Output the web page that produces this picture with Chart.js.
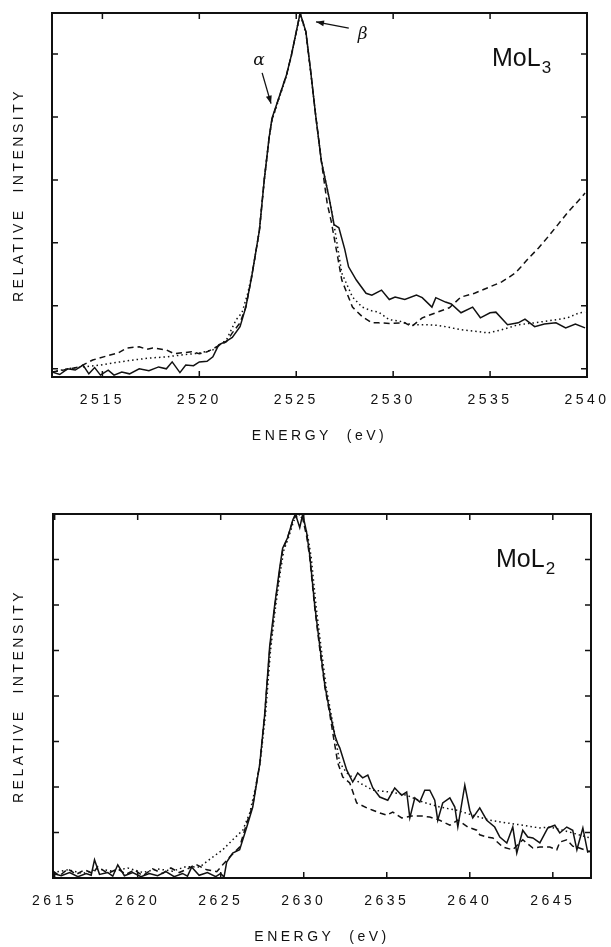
<!DOCTYPE html>
<html>
<head>
<meta charset="utf-8">
<script src="https://cdn.jsdelivr.net/npm/chart.js@4.4.0/dist/chart.umd.min.js"></script>
<style>
  body { margin: 0; background: #fff; }
  #wrap { position: relative; width: 611px; height: 947px; }
  canvas { position: absolute; left: 0; }
  #chartL3 { top: 0; }
  #chartL2 { top: 470px; }
</style>
</head>
<body>
<div id="wrap">
  <canvas id="chartL3" width="611" height="460"></canvas>
  <canvas id="chartL2" width="611" height="477"></canvas>
</div>
<script>
// Mo L3 edge: [energy eV, relative intensity]
const l3Ticks = [2515, 2520, 2525, 2530, 2535, 2540];
const l3YTicks = [0, 1, 2, 3, 4, 5];

const l3Solid = [
  [2512.4, -0.05], [2512.8, -0.09], [2513.2, 0.0], [2513.6, -0.02], [2514.0, 0.06], [2514.3, -0.08],
  [2514.6, 0.02], [2514.9, -0.1], [2515.3, -0.02], [2515.6, -0.1], [2516.0, -0.05], [2516.4, -0.08],
  [2516.9, 0.0], [2517.4, -0.03], [2517.9, 0.03], [2518.3, 0.0], [2518.6, 0.11], [2519.0, -0.06],
  [2519.3, 0.06], [2519.7, 0.05], [2520.0, 0.11], [2520.4, 0.12], [2520.7, 0.19], [2521.0, 0.38],
  [2521.4, 0.44], [2521.7, 0.5], [2522.1, 0.67], [2522.4, 0.98], [2522.7, 1.46], [2523.1, 2.2],
  [2523.35, 3.0], [2523.6, 3.67], [2523.75, 3.98], [2524.1, 4.3], [2524.5, 4.67], [2524.75, 4.98],
  [2525.0, 5.35], [2525.2, 5.65], [2525.5, 5.35], [2525.75, 4.71], [2526.0, 4.03], [2526.3, 3.29],
  [2526.7, 2.71], [2526.95, 2.29], [2527.05, 2.27], [2527.2, 2.24], [2527.5, 1.9], [2527.7, 1.62],
  [2528.1, 1.41], [2528.6, 1.2], [2528.9, 1.17], [2529.4, 1.25], [2529.8, 1.1], [2530.1, 1.14],
  [2530.6, 1.1], [2531.2, 1.17], [2531.5, 1.13], [2532.0, 0.98], [2532.2, 1.13], [2532.7, 1.06],
  [2533.0, 1.03], [2533.5, 0.89], [2534.1, 0.98], [2534.5, 0.81], [2535.0, 0.89], [2535.3, 0.9],
  [2535.9, 0.7], [2536.45, 0.73], [2536.8, 0.79], [2537.3, 0.67], [2537.8, 0.71], [2538.4, 0.73],
  [2538.9, 0.65], [2539.4, 0.71], [2539.9, 0.65]
];

const l3Dashed = [
  [2512.4, -0.05], [2513.0, -0.02], [2513.8, 0.03], [2514.5, 0.14], [2515.4, 0.22], [2515.8, 0.25],
  [2516.25, 0.33], [2516.9, 0.35], [2517.3, 0.31], [2517.6, 0.33], [2518.3, 0.3], [2518.7, 0.24],
  [2519.0, 0.25], [2519.6, 0.27], [2520.0, 0.24], [2520.4, 0.27], [2520.9, 0.35], [2521.4, 0.43],
  [2521.7, 0.57], [2522.1, 0.73], [2522.4, 0.98], [2522.7, 1.46], [2523.1, 2.2], [2523.35, 3.0],
  [2523.6, 3.67], [2523.75, 3.96], [2524.1, 4.3], [2524.5, 4.67], [2524.75, 4.98], [2525.0, 5.35],
  [2525.2, 5.65], [2525.5, 5.35], [2525.75, 4.71], [2526.0, 4.03], [2526.3, 3.29], [2526.6, 2.62],
  [2526.8, 2.35], [2527.35, 1.41], [2527.9, 0.98], [2528.4, 0.83], [2528.9, 0.73], [2529.25, 0.73],
  [2529.9, 0.72], [2530.6, 0.73], [2530.95, 0.67], [2531.5, 0.81], [2532.2, 0.89], [2532.9, 0.97],
  [2533.5, 1.14], [2534.2, 1.2], [2534.9, 1.29], [2535.6, 1.38], [2536.3, 1.52], [2536.6, 1.62],
  [2537.0, 1.76], [2537.5, 1.92], [2538.0, 2.1], [2538.5, 2.29], [2539.0, 2.48], [2539.5, 2.65],
  [2539.9, 2.79]
];

const l3Dotted = [
  [2512.4, -0.05], [2513.2, 0.0], [2514.0, 0.03], [2514.9, 0.06], [2515.7, 0.1], [2516.6, 0.14],
  [2517.4, 0.17], [2518.3, 0.19], [2519.1, 0.22], [2520.0, 0.25], [2520.7, 0.3], [2521.4, 0.46],
  [2521.9, 0.78], [2522.2, 0.89], [2522.5, 1.2], [2522.75, 1.55], [2523.1, 2.2], [2523.35, 3.0],
  [2523.6, 3.65], [2523.75, 3.95], [2524.1, 4.28], [2524.5, 4.65], [2524.75, 4.97], [2525.0, 5.34],
  [2525.2, 5.63], [2525.5, 5.33], [2525.75, 4.7], [2526.0, 4.03], [2526.3, 3.29], [2526.7, 2.71],
  [2526.95, 2.29], [2527.35, 1.52], [2527.9, 1.14], [2528.4, 0.98], [2528.9, 0.92], [2529.25, 0.9],
  [2529.8, 0.78], [2530.3, 0.76], [2530.95, 0.7], [2531.7, 0.7], [2532.3, 0.69], [2532.7, 0.67],
  [2533.5, 0.62], [2534.4, 0.59], [2534.9, 0.57], [2535.6, 0.62], [2536.45, 0.7], [2537.3, 0.73],
  [2538.4, 0.78], [2539.0, 0.81], [2539.6, 0.89], [2539.9, 0.9]
];

// Mo L2 edge
const l2Ticks = [2615, 2620, 2625, 2630, 2635, 2640, 2645];
const l2YTicks = [0, 1, 2, 3, 4, 5, 6, 7, 8];

const l2Solid = [
  [2614.9, 0.1], [2615.4, 0.05], [2615.9, 0.12], [2616.4, 0.03], [2616.9, 0.1], [2617.2, 0.06],
  [2617.4, 0.4], [2617.7, 0.08], [2618.2, 0.12], [2618.5, 0.04], [2618.8, 0.29], [2619.2, 0.05],
  [2619.7, 0.12], [2620.2, 0.03], [2620.7, 0.1], [2621.2, 0.05], [2621.7, 0.14], [2622.2, 0.03],
  [2622.7, 0.1], [2623.0, 0.04], [2623.25, 0.24], [2623.7, 0.06], [2624.2, 0.12], [2624.7, 0.03],
  [2625.0, 0.1], [2625.2, 0.02], [2625.36, 0.35], [2625.72, 0.55], [2626.14, 0.62], [2626.57, 1.12],
  [2626.93, 1.56], [2627.35, 2.5], [2627.65, 3.6], [2627.8, 4.35], [2627.95, 5.1], [2628.25, 6.0],
  [2628.55, 6.81], [2628.73, 7.25], [2629.04, 7.49], [2629.34, 7.87], [2629.5, 8.0], [2629.76, 7.7],
  [2629.94, 8.0], [2630.18, 7.58], [2630.36, 7.1], [2630.66, 6.0], [2630.96, 5.12], [2631.27, 4.24],
  [2631.57, 3.65], [2631.87, 3.14], [2632.05, 2.95], [2632.17, 2.86], [2632.59, 2.37], [2632.95, 2.11],
  [2633.25, 2.31], [2633.55, 2.2], [2633.86, 2.26], [2634.16, 1.98], [2634.58, 1.78], [2635.06, 1.71],
  [2635.48, 1.98], [2635.9, 1.82], [2636.2, 1.89], [2636.39, 1.32], [2636.69, 1.76], [2636.99, 1.67],
  [2637.29, 1.93], [2637.59, 1.93], [2637.89, 1.71], [2638.07, 1.27], [2638.37, 1.65], [2638.8, 1.76],
  [2639.1, 1.56], [2639.28, 1.12], [2639.7, 2.04], [2640.0, 1.49], [2640.18, 1.32], [2640.6, 1.54],
  [2641.02, 1.27], [2641.5, 1.12], [2641.81, 0.9], [2642.23, 0.77], [2642.59, 1.12], [2642.83, 0.55],
  [2643.19, 1.05], [2643.49, 0.9], [2643.8, 0.88], [2644.22, 0.77], [2644.7, 1.1], [2645.12, 1.16],
  [2645.42, 0.99], [2645.84, 1.12], [2646.2, 1.05], [2646.45, 0.62], [2646.81, 1.1], [2647.1, 0.57],
  [2647.3, 0.6]
];

const l2Dashed = [
  [2614.9, 0.15], [2615.3, 0.05], [2615.8, 0.2], [2616.3, 0.08], [2616.8, 0.18], [2617.3, 0.1],
  [2617.6, 0.25], [2618.2, 0.1], [2618.8, 0.2], [2619.3, 0.08], [2619.8, 0.18], [2620.3, 0.05],
  [2620.9, 0.2], [2621.5, 0.1], [2622.0, 0.22], [2622.5, 0.12], [2623.0, 0.2], [2623.5, 0.3],
  [2624.16, 0.18], [2624.76, 0.14], [2625.12, 0.29], [2625.54, 0.46], [2626.14, 0.68], [2626.57, 1.21],
  [2626.93, 1.6], [2627.35, 2.5], [2627.65, 3.6], [2627.95, 5.0], [2628.25, 5.95], [2628.55, 6.75],
  [2628.73, 7.2], [2629.04, 7.5], [2629.34, 7.85], [2629.6, 8.0], [2629.94, 7.9], [2630.18, 7.5],
  [2630.36, 7.05], [2630.66, 5.95], [2630.96, 5.05], [2631.27, 4.2], [2631.57, 3.6], [2631.75, 3.19],
  [2632.05, 2.53], [2632.35, 2.22], [2632.77, 2.09], [2633.19, 1.65], [2633.8, 1.54], [2634.16, 1.49],
  [2634.58, 1.43], [2635.0, 1.38], [2635.36, 1.45], [2635.9, 1.32], [2636.5, 1.36], [2637.17, 1.36],
  [2637.59, 1.34], [2638.19, 1.27], [2638.8, 1.16], [2639.28, 1.27], [2639.88, 1.12], [2640.42, 1.05],
  [2640.6, 0.95], [2641.02, 0.9], [2641.39, 0.88], [2641.99, 0.68], [2642.59, 0.62], [2643.19, 0.84],
  [2643.43, 0.77], [2643.8, 0.66], [2644.22, 0.68], [2644.82, 0.68], [2645.24, 0.62], [2645.42, 0.79],
  [2645.84, 0.84], [2646.2, 0.7], [2646.45, 0.68], [2647.05, 0.6], [2647.3, 0.57]
];

const l2Dotted = [
  [2614.9, 0.12], [2615.8, 0.18], [2616.7, 0.1], [2617.6, 0.2], [2618.5, 0.15], [2619.4, 0.22],
  [2620.3, 0.12], [2621.2, 0.2], [2622.1, 0.15], [2622.9, 0.25], [2623.73, 0.24], [2624.52, 0.46],
  [2625.12, 0.62], [2625.72, 0.84], [2626.33, 1.05], [2626.75, 1.43], [2627.1, 2.0], [2627.4, 2.6],
  [2627.7, 3.6], [2628.0, 5.0], [2628.3, 5.95], [2628.6, 6.75], [2628.8, 7.2], [2629.1, 7.5],
  [2629.4, 7.85], [2629.7, 8.0], [2630.0, 7.85], [2630.25, 7.5], [2630.45, 7.05], [2630.75, 5.95],
  [2631.05, 5.05], [2631.35, 4.2], [2631.65, 3.6], [2631.9, 3.1], [2632.17, 2.53], [2632.59, 2.31],
  [2633.37, 2.09], [2634.16, 1.93], [2635.18, 1.89], [2636.2, 1.82], [2637.17, 1.67], [2638.19, 1.56],
  [2639.22, 1.49], [2640.18, 1.38], [2641.2, 1.27], [2642.23, 1.21], [2643.19, 1.16], [2644.22, 1.1],
  [2644.82, 1.12], [2645.6, 1.05], [2646.2, 0.99], [2647.05, 0.9], [2647.3, 0.88]
];

const FONT = "'Liberation Sans', Arial, sans-serif";
const INK = '#111';

function series(points, dash) {
  return {
    data: points.map(p => ({ x: p[0], y: p[1] })),
    borderColor: INK,
    borderWidth: 1.5,
    borderDash: dash,
    pointRadius: 0,
    fill: false,
    tension: 0
  };
}

function arrow(ctx, x1, y1, x2, y2) {
  const a = Math.atan2(y2 - y1, x2 - x1);
  const c = Math.cos(a), s = Math.sin(a);
  ctx.beginPath();
  ctx.moveTo(x1, y1);
  ctx.lineTo(x2, y2);
  ctx.stroke();
  ctx.beginPath();
  ctx.moveTo(x2, y2);
  ctx.lineTo(x2 - 8 * c + 3 * s, y2 - 8 * s - 3 * c);
  ctx.lineTo(x2 - 8 * c - 3 * s, y2 - 8 * s + 3 * c);
  ctx.closePath();
  ctx.fill();
}

function panelLabel(ctx, area, main, sub) {
  ctx.font = `25px ${FONT}`;
  ctx.textBaseline = 'alphabetic';
  ctx.textAlign = 'left';
  const x0 = area.right - 95, y0 = area.top + 53;
  ctx.fillText(main, x0, y0);
  const w = ctx.measureText(main).width;
  ctx.font = `17px ${FONT}`;
  ctx.fillText(sub, x0 + w + 1, y0 + 7);
}

// box round the plot with short inward ticks on every side
const framePlugin = {
  id: 'frame',
  beforeDraw(chart) {
    chart.ctx.letterSpacing = '3.5px';
  },
  afterDraw(chart) {
    const { ctx, chartArea: a, scales: { x, y } } = chart;
    ctx.save();
    ctx.strokeStyle = INK;
    ctx.lineWidth = 2;
    ctx.strokeRect(a.left, a.top, a.right - a.left, a.bottom - a.top);
    ctx.lineWidth = 1.5;
    ctx.beginPath();
    x.ticks.forEach(t => {
      const px = x.getPixelForValue(t.value);
      ctx.moveTo(px, a.bottom); ctx.lineTo(px, a.bottom - 6);
      ctx.moveTo(px, a.top); ctx.lineTo(px, a.top + 6);
    });
    y.ticks.forEach(t => {
      const py = y.getPixelForValue(t.value);
      ctx.moveTo(a.left, py); ctx.lineTo(a.left + 6, py);
      ctx.moveTo(a.right, py); ctx.lineTo(a.right - 6, py);
    });
    ctx.stroke();
    ctx.restore();
  }
};

function scaleOptions(xr, xTicks, yr, yTicks, leftW, xH, titlePad) {
  const font = { family: FONT, size: 14 };
  return {
    x: {
      type: 'linear', min: xr[0], max: xr[1],
      afterBuildTicks: s => { s.ticks = xTicks.map(v => ({ value: v })); },
      // fixed axis height; end labels may hang past the plot edge
      afterFit: s => { s.height = xH; s.paddingLeft = 0; s.paddingRight = 0; },
      grid: { display: false, drawTicks: false },
      border: { display: false },
      ticks: { color: INK, font, padding: 15, maxRotation: 0, autoSkip: false, callback: v => String(v) },
      title: { display: true, text: 'ENERGY  (eV)', color: INK, font, padding: { top: 0, bottom: titlePad } }
    },
    y: {
      min: yr[0], max: yr[1],
      afterBuildTicks: s => { s.ticks = yTicks.map(v => ({ value: v })); },
      afterFit: s => { s.width = leftW; },
      grid: { display: false, drawTicks: false },
      border: { display: false },
      ticks: { display: false },
      title: { display: true, text: 'RELATIVE  INTENSITY', color: INK, font, padding: { top: 10.6, bottom: 0 } }
    }
  };
}

const common = {
  responsive: false,
  animation: false,
  plugins: { legend: { display: false }, tooltip: { enabled: false } }
};

new Chart(document.getElementById('chartL3'), {
  type: 'line',
  data: { datasets: [series(l3Solid, []), series(l3Dashed, [6, 4]), series(l3Dotted, [1.5, 3])] },
  options: {
    ...common,
    layout: { padding: { top: 13, right: 24, left: 0, bottom: 0 } },
    scales: scaleOptions([2512.4, 2540], l3Ticks, [-0.13, 5.65], l3YTicks, 52, 83, 15.6)
  },
  plugins: [framePlugin, {
    id: 'notesL3',
    afterDraw(chart) {
      const { ctx, chartArea, scales: { x, y } } = chart;
      ctx.save();
      ctx.letterSpacing = '0px';
      ctx.fillStyle = INK;
      ctx.strokeStyle = INK;
      ctx.lineWidth = 1.3;
      ctx.font = `italic 17px 'DejaVu Serif', serif`;
      ctx.textAlign = 'center';
      ctx.textBaseline = 'middle';
      ctx.fillText('α', x.getPixelForValue(2523.08), y.getPixelForValue(4.89));
      ctx.fillText('β', x.getPixelForValue(2528.43), y.getPixelForValue(5.3));
      arrow(ctx, x.getPixelForValue(2523.24), y.getPixelForValue(4.7), x.getPixelForValue(2523.7), y.getPixelForValue(4.21));
      arrow(ctx, x.getPixelForValue(2527.71), y.getPixelForValue(5.41), x.getPixelForValue(2526.02), y.getPixelForValue(5.51));
      panelLabel(ctx, chartArea, 'MoL', '3');
      ctx.restore();
    }
  }]
});

new Chart(document.getElementById('chartL2'), {
  type: 'line',
  data: { datasets: [series(l2Solid, []), series(l2Dashed, [6, 4]), series(l2Dotted, [1.5, 3])] },
  options: {
    ...common,
    layout: { padding: { top: 44, right: 20, left: 0, bottom: 0 } },
    scales: scaleOptions([2614.9, 2647.3], l2Ticks, [0, 8], l2YTicks, 53, 69, 1.6)
  },
  plugins: [framePlugin, {
    id: 'notesL2',
    afterDraw(chart) {
      const { ctx, chartArea } = chart;
      ctx.save();
      ctx.letterSpacing = '0px';
      ctx.fillStyle = INK;
      panelLabel(ctx, chartArea, 'MoL', '2');
      ctx.restore();
    }
  }]
});
</script>
</body>
</html>
